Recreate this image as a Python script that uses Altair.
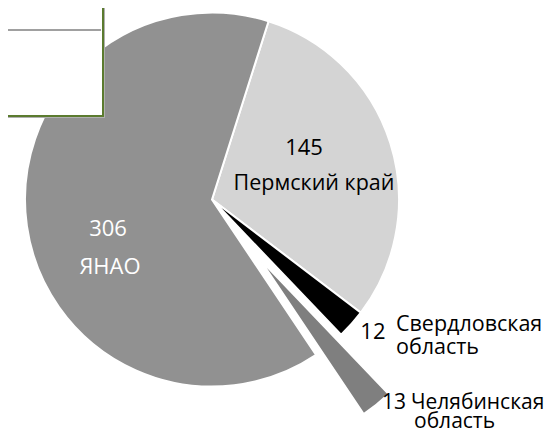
import math
import altair as alt
import pandas as pd

# ---- data ----
regions = ["Пермский край", "Свердловская область", "Челябинская область", "ЯНАО"]
values = [145, 12, 13, 306]
colors = ["#d4d4d4", "#000000", "#7f7f7f", "#919191"]

df = pd.DataFrame({"region": regions, "value": values, "order": list(range(len(regions)))})

# ---- geometry / style ----
W, H = 538, 424
CX, CY = 204, 191.5
R = 187
START = math.radians(17.6)
EXPLODE = 76
FONT = "Open Sans"

total = sum(values)
idx = regions.index("Челябинская область")
mid_frac = (sum(values[:idx]) + values[idx] / 2) / total
mid_ang = START + mid_frac * 2 * math.pi
EX = CX + EXPLODE * math.sin(mid_ang)
EY = CY - EXPLODE * math.cos(mid_ang)

theta_scale = alt.Scale(domain=[0, 1], range=[START, START + 2 * math.pi])
color_scale = alt.Scale(domain=regions, range=colors)

base = (
    alt.Chart(df)
    .transform_joinaggregate(total="sum(value)")
    .transform_window(cum="sum(value)", sort=[alt.SortField("order")], frame=[None, 0])
    .transform_calculate(
        t0="(datum.cum - datum.value) / datum.total",
        t1="datum.cum / datum.total",
        tm="(datum.cum - datum.value / 2) / datum.total",
        line1="split(datum.region, ' ')[0]",
        line2="split(datum.region, ' ')[1]",
    )
)

pie = base.transform_filter(alt.datum.region != "Челябинская область").mark_arc(
    radius=R, stroke="white", strokeWidth=2
).encode(
    theta=alt.Theta("t0:Q", stack=None, scale=theta_scale),
    theta2="t1:Q",
    color=alt.Color("region:N", scale=color_scale, legend=None),
    x=alt.value(CX),
    y=alt.value(CY),
)

exploded = base.transform_filter(alt.datum.region == "Челябинская область").mark_arc(
    radius=R, stroke="white", strokeWidth=2
).encode(
    theta=alt.Theta("t0:Q", stack=None, scale=theta_scale),
    theta2="t1:Q",
    color=alt.Color("region:N", scale=color_scale, legend=None),
    x=alt.value(EX),
    y=alt.value(EY),
)


def label(region, field, radius, dx, dy, color="black", align="center", size=22,
          origin=(CX, CY)):
    kw = dict(radius=radius, dx=dx, dy=dy, color=color, align=align, baseline="alphabetic",
              font=FONT, fontSize=size)
    ftype = "Q" if field == "value" else "N"
    return base.transform_filter(alt.datum.region == region).mark_text(**kw).encode(
        theta=alt.Theta("tm:Q", stack=None, scale=theta_scale),
        text=alt.Text(f"{field}:{ftype}"),
        x=alt.value(origin[0]),
        y=alt.value(origin[1]),
    )


labels = [
    label("Пермский край", "value", 100, -3.3, -14.3),
    label("Пермский край", "region", 100, 6.7, 20.7, size=21.5),
    label("ЯНАО", "value", 100, -5, 22.4, color="white"),
    label("ЯНАО", "region", 100, -3, 60.4, color="white"),
    label("Свердловская область", "value", 210, 17, -0.2, align="right"),
    label("Свердловская область", "line1", 210, 27.4, -8.8, align="left", size=21.5),
    label("Свердловская область", "line2", 210, 27.4, 14.2, align="left", size=21.5),
    label("Челябинская область", "value", 210, 15, -13.6, align="right", size=21,
          origin=(EX, EY)),
    label("Челябинская область", "line1", 210, 20, -13.6, align="left", size=21,
          origin=(EX, EY)),
    label("Челябинская область", "line2", 210, 23, 5.4, align="left", size=21,
          origin=(EX, EY)),
]

# decorative text box in the top-left corner (cropped in the original)
one = alt.Data(values=[{}])
box_shadow = alt.Chart(one).mark_rect(color="#b0b0b0").encode(
    x=alt.value(-10), x2=alt.value(97), y=alt.value(-10), y2=alt.value(110)
)
box = alt.Chart(one).mark_rect(fill="white", stroke="#5b7b2f", strokeWidth=2).encode(
    x=alt.value(-10), x2=alt.value(95), y=alt.value(-10), y2=alt.value(108)
)
box_line = alt.Chart(one).mark_rule(color="#a0a0a0", strokeWidth=2).encode(
    x=alt.value(-10), x2=alt.value(93), y=alt.value(22)
)

chart = alt.layer(pie, exploded, *labels, box_shadow, box, box_line).properties(
    width=W, height=H, padding=0, autosize="none"
).configure_view(stroke=None)

chart.save("out.html", embed_options={"renderer": "svg", "actions": False})
